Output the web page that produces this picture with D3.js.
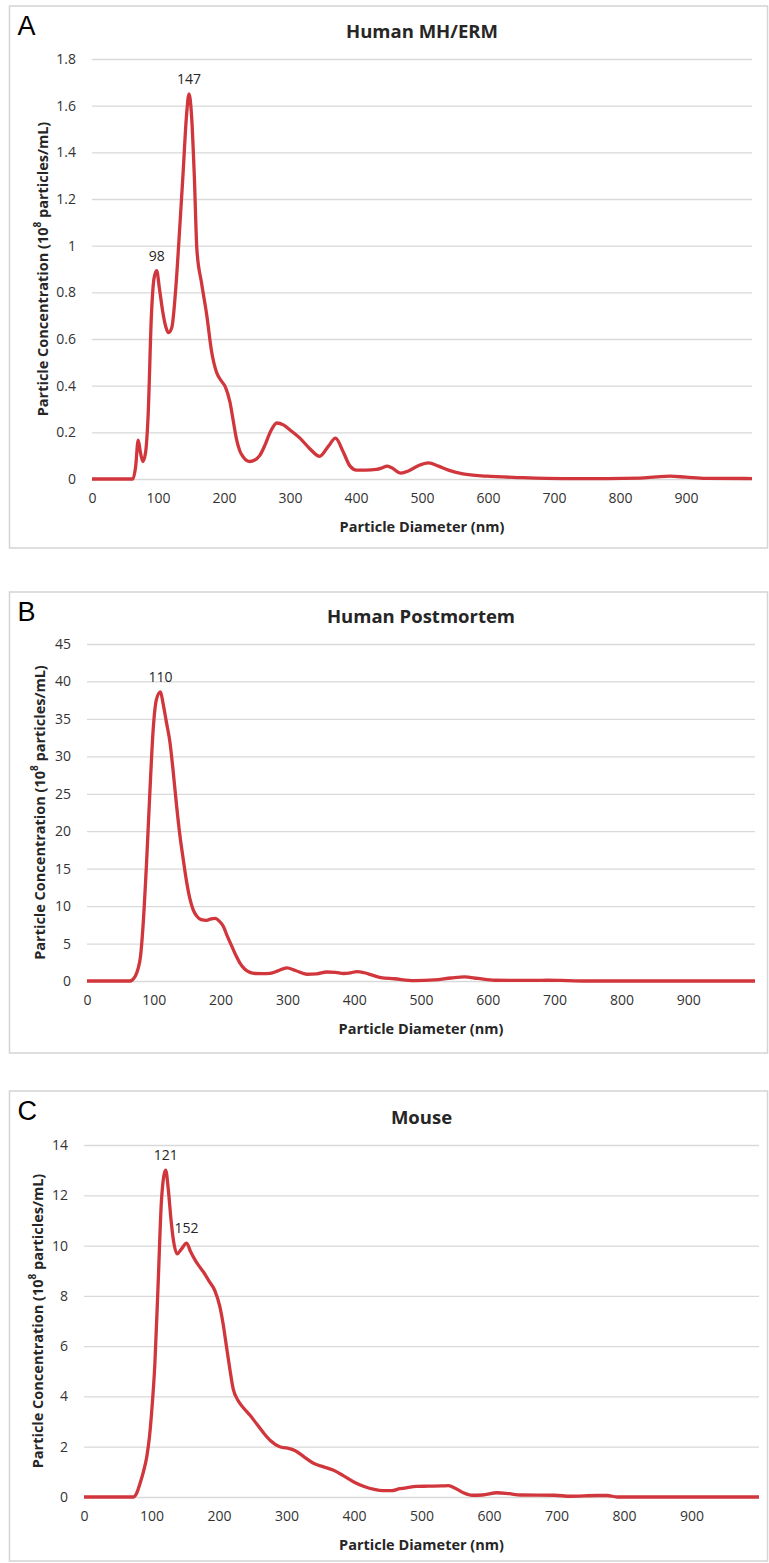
<!DOCTYPE html>
<html>
<head>
<meta charset="utf-8">
<script src="https://cdn.jsdelivr.net/npm/d3@7"></script>
<style>
  body { margin: 0; background: #fff; }
  svg text { font-family: "Open Sans", sans-serif; }
</style>
</head>
<body>
<div class="chart"></div>
<script>
// DATA ------------------------------
// panel A: human MH/ERM
const diamA = [0, 62, 66, 70, 73, 77, 81, 85, 90, 94, 98, 102, 107, 112, 116, 121, 127, 133, 138, 143, 147, 151, 155, 159, 166, 174, 181, 189, 196, 202, 209, 214, 219, 224, 229, 234, 239, 246, 254, 262, 270, 280, 290, 300, 315, 330, 345, 358, 369, 380, 391, 401, 415, 431, 440, 447, 454, 468, 480, 495, 510, 525, 540, 562, 598, 650, 714, 780, 830, 855, 876, 900, 930, 1000]
const concA = [0, 0, 0.05, 0.167, 0.12, 0.075, 0.11, 0.27, 0.7, 0.86, 0.893, 0.82, 0.72, 0.65, 0.627, 0.65, 0.82, 1.08, 1.31, 1.55, 1.65, 1.55, 1.3, 0.98, 0.84, 0.7, 0.55, 0.455, 0.42, 0.395, 0.33, 0.25, 0.17, 0.12, 0.095, 0.08, 0.075, 0.08, 0.1, 0.145, 0.2, 0.24, 0.232, 0.21, 0.175, 0.13, 0.097, 0.14, 0.175, 0.12, 0.055, 0.038, 0.038, 0.041, 0.048, 0.055, 0.048, 0.025, 0.035, 0.058, 0.069, 0.055, 0.038, 0.022, 0.012, 0.006, 0.002, 0.002, 0.004, 0.009, 0.012, 0.008, 0.003, 0.002]
const peaksA = [98, 147]
const yTicksA = [0, 0.2, 0.4, 0.6, 0.8, 1, 1.2, 1.4, 1.6, 1.8]

// panel B: human postmortem
const diamB = [0, 64, 68, 72, 76, 80, 84, 89, 94, 99, 104, 110, 114, 119, 124, 129, 134, 139, 144, 149, 154, 159, 164, 171, 179, 186, 192, 198, 204, 210, 217, 223, 229, 236, 244, 252, 262, 274, 286, 299, 312, 329, 344, 359, 372, 384, 395, 404, 415, 428, 440, 460, 490, 520, 545, 565, 585, 610, 650, 690, 720, 750, 1000]
const concB = [0, 0, 0.15, 0.6, 1.5, 3.2, 7.5, 15.5, 25, 33.5, 37.6, 38.6, 37, 34.5, 32, 28, 23.5, 19.5, 16.3, 13.3, 11, 9.5, 8.7, 8.2, 8.1, 8.3, 8.35, 8, 7.3, 6, 4.6, 3.4, 2.4, 1.6, 1.15, 1, 0.98, 1.03, 1.35, 1.75, 1.4, 0.9, 0.95, 1.2, 1.15, 1, 1.1, 1.25, 1.1, 0.75, 0.45, 0.3, 0.05, 0.15, 0.4, 0.55, 0.35, 0.1, 0.08, 0.1, 0.05, 0, 0]
const peaksB = [110]
const yTicksB = [0, 5, 10, 15, 20, 25, 30, 35, 40, 45]

// panel C: mouse
const diamC = [0, 73, 78, 83, 88, 93, 97, 100, 105, 110, 115, 121, 125, 129, 132, 138, 144, 152, 158, 164, 170, 177, 185, 194, 201, 206, 211, 216, 221, 228, 236, 246, 256, 266, 276, 290, 300, 313, 326, 340, 355, 369, 384, 399, 415, 430, 443, 455, 468, 480, 492, 510, 530, 540, 550, 562, 575, 590, 612, 630, 647, 697, 721, 760, 775, 790, 1000]
const concC = [0, 0, 0.15, 0.54, 1, 1.6, 2.4, 3.3, 5.3, 8.6, 11.9, 13, 12.2, 11, 10.3, 9.67, 9.85, 10.1, 9.75, 9.45, 9.2, 8.95, 8.6, 8.2, 7.6, 6.9, 6, 5.1, 4.3, 3.85, 3.55, 3.25, 2.9, 2.55, 2.25, 2, 1.95, 1.84, 1.6, 1.34, 1.2, 1.07, 0.85, 0.61, 0.42, 0.3, 0.25, 0.25, 0.33, 0.38, 0.42, 0.43, 0.44, 0.45, 0.35, 0.17, 0.07, 0.08, 0.17, 0.13, 0.08, 0.07, 0.03, 0.06, 0.06, 0, 0]
const peaksC = [121, 152]
const yTicksC = [0, 2, 4, 6, 8, 10, 12, 14]

const xTicks = [0, 100, 200, 300, 400, 500, 600, 700, 800, 900]
const letters = ["A", "B", "C"]
const titles = ["Human MH/ERM", "Human Postmortem", "Mouse"]

// LAYOUT ------------------------------
const W = 769, H = 1563
const panels = [
	{diam: diamA, conc: concA, peaks: peaksA, yTicks: yTicksA, box: [9.5, 6, 758, 542], plot: [92, 752, 59, 479], yTitleX: 43},
	{diam: diamB, conc: concB, peaks: peaksB, yTicks: yTicksB, box: [9.5, 592, 758, 461], plot: [87, 755, 644, 981], yTitleX: 40},
	{diam: diamC, conc: concC, peaks: peaksC, yTicks: yTicksC, box: [9.5, 1091, 758, 470], plot: [84, 759, 1145, 1497], yTitleX: 38}
]

const svg = d3.select(".chart")
	.append("svg")
	.attr("width", W)
	.attr("height", H)

panels.forEach((p, i) => {
	const [x0, x1, yTop, yBot] = p.plot
	const g = svg.append("g")

	// panel frame
	g.append("rect")
		.attr("x", p.box[0]).attr("y", p.box[1])
		.attr("width", p.box[2]).attr("height", p.box[3])
		.attr("fill", "none")
		.attr("stroke", "#d4d4d4")
		.attr("stroke-width", 1.5)

	let xScale = d3.scaleLinear().domain([0, 1000]).range([x0, x1])
	let yScale = d3.scaleLinear().domain([0, d3.max(p.yTicks)]).range([yBot, yTop])

	// gridlines + y labels
	let yAxis = d3.axisLeft(yScale)
		.tickValues(p.yTicks)
		.tickSize(-(x1 - x0))
		.tickPadding(16)
		.tickFormat(d => String(+d.toFixed(1)))
	let yG = g.append("g")
		.attr("class", "axis y-axis")
		.attr("transform", `translate(${x0},0)`)
		.call(yAxis)
	yG.select(".domain").remove()
	yG.selectAll("line").attr("stroke", "#d9d9d9").attr("stroke-width", 1.3)
	yG.selectAll("text")
		.attr("fill", "#333")
		.style("font-size", "14px")
		.style("font-family", "Open Sans, sans-serif")

	// x labels
	let xAxis = d3.axisBottom(xScale)
		.tickValues(xTicks)
		.tickSize(0)
		.tickPadding(14)
	let xG = g.append("g")
		.attr("class", "axis x-axis")
		.attr("transform", `translate(0,${yBot})`)
		.call(xAxis)
	xG.select(".domain").remove()
	xG.selectAll("text")
		.attr("fill", "#333")
		.style("font-size", "14px")
		.style("font-family", "Open Sans, sans-serif")

	// curve
	const pts = p.diam.map((d, k) => [d, p.conc[k]])
	const line = d3.line()
		.x(d => xScale(d[0]))
		.y(d => yScale(d[1]))
		.curve(d3.curveMonotoneX)
	g.append("path")
		.datum(pts)
		.attr("fill", "none")
		.attr("stroke", "#d0363b")
		.attr("stroke-width", 3.3)
		.attr("stroke-linejoin", "round")
		.attr("d", line)

	// peak labels
	p.peaks.forEach(pk => {
		const k = p.diam.indexOf(pk)
		g.append("text")
			.attr("x", xScale(pk))
			.attr("y", yScale(p.conc[k]) - 10)
			.attr("text-anchor", "middle")
			.attr("fill", "#262626")
			.style("font-size", "14px")
			.text(pk)
	})

	// titles
	g.append("text")
		.attr("x", (x0 + x1) / 2)
		.attr("y", yTop - 21)
		.attr("text-anchor", "middle")
		.attr("fill", "#262626")
		.style("font-size", "18.5px")
		.style("font-weight", "bold")
		.text(titles[i])

	g.append("text")
		.attr("x", p.box[0] + 8)
		.attr("y", p.box[1] + 29)
		.attr("fill", "#000")
		.style("font-family", "Liberation Sans, Arial, sans-serif")
		.style("font-size", "27px")
		.text(letters[i])

	g.append("text")
		.attr("x", (x0 + x1) / 2)
		.attr("y", yBot + 53)
		.attr("text-anchor", "middle")
		.attr("fill", "#262626")
		.style("font-size", "14.5px")
		.style("font-weight", "bold")
		.text("Particle Diameter (nm)")

	const yt = g.append("text")
		.attr("transform", `translate(${p.yTitleX},${(yTop + yBot) / 2}) rotate(-90)`)
		.attr("text-anchor", "middle")
		.attr("dy", "0.35em")
		.attr("fill", "#262626")
		.style("font-size", "14.5px")
		.style("font-weight", "bold")
	yt.append("tspan").text("Particle Concentration (10")
	yt.append("tspan").attr("baseline-shift", "super").style("font-size", "10px").text("8")
	yt.append("tspan").text(" particles/mL)")
})
</script>
</body>
</html>
